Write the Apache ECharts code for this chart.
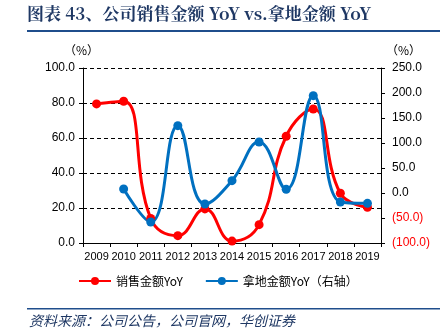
<!DOCTYPE html>
<html><head><meta charset="utf-8">
<script src="https://cdn.jsdelivr.net/npm/echarts@6/dist/echarts.min.js"></script>
<style>html,body{margin:0;padding:0;background:#fff}#c{width:445px;height:336px}</style>
</head><body><div id="c"></div>
<script>
const years = ['2009','2010','2011','2012','2013','2014','2015','2016','2017','2018','2019'];
const salesYoY = [79.5, 81.0, 14.0, 4.2, 19.5, 1.1, 10.5, 61.0, 76.6, 28.4, 20.4];
const landYoY = [null, 8.0, -58.0, 134.7, -22.0, 24.7, 102.0, 7.3, 194.7, -18.0, -20.7];
const leftTicks = {min: 0, max: 100, interval: 20};
const rightTicks = {min: -100, max: 250, interval: 50};

const chart = echarts.init(document.getElementById('c'));
const txtFont = 'Liberation Sans, Arial, sans-serif';
chart.setOption({
  animation: false,
  grid: {left: 83, right: 64, top: 68, bottom: 93},
  xAxis: {
    type: 'category', data: years, boundaryGap: true,
    axisLine: {lineStyle: {color: '#000', width: 1}},
    axisTick: {show: true, inside: false, length: 4, lineStyle: {color: '#000'}},
    axisLabel: {color: '#000', fontSize: 11, fontFamily: txtFont, margin: 8, interval: 0}
  },
  yAxis: [
    {type: 'value', min: leftTicks.min, max: leftTicks.max, interval: leftTicks.interval,
     axisLine: {show: true, lineStyle: {color: '#000'}},
     axisTick: {show: true, length: 4, lineStyle: {color: '#000'}},
     axisLabel: {color: '#000', fontSize: 12, fontFamily: txtFont, margin: 8,
       formatter: v => v.toFixed(1)},
     splitLine: {show: true, lineStyle: {color: '#000', type: [4, 3], width: 1}}
    },
    {type: 'value', min: rightTicks.min, max: rightTicks.max, interval: rightTicks.interval,
     axisLine: {show: true, lineStyle: {color: '#000'}},
     axisTick: {show: true, length: 4, lineStyle: {color: '#000'}},
     axisLabel: {fontSize: 12, fontFamily: txtFont, margin: 11,
       formatter: v => v < 0 ? '{n|(' + Math.abs(v).toFixed(1) + ')}' : '{p|' + v.toFixed(1) + '}',
       rich: {n: {color: '#FF0000', fontSize: 12, fontFamily: txtFont}, p: {color: '#000', fontSize: 12, fontFamily: txtFont}}},
     splitLine: {show: false}
    }
  ],
  legend: {
    bottom: 44, left: 73, itemGap: 22, itemWidth: 32, itemHeight: 10,
    textStyle: {color: '#000', fontSize: 12, fontFamily: 'Noto Sans CJK SC, sans-serif'},
    data: ['销售金额YoY', '拿地金额YoY（右轴）']
  },
  series: [
    {name: '销售金额YoY', type: 'line', data: salesYoY, yAxisIndex: 0, smooth: 0.45,
     symbol: 'circle', symbolSize: 9, color: '#FF0000',
     lineStyle: {width: 3, color: '#FF0000'}, itemStyle: {color: '#FF0000'}},
    {name: '拿地金额YoY（右轴）', type: 'line', data: landYoY, yAxisIndex: 1, smooth: 0.45,
     symbol: 'circle', symbolSize: 9, color: '#0070C0',
     lineStyle: {width: 3, color: '#0070C0'}, itemStyle: {color: '#0070C0'}}
  ],
  graphic: [
    {type: 'text', left: 27, top: 5, style: {text: '图表 43、公司销售金额 YoY vs.拿地金额 YoY',
      fill: '#1F3864', font: 'bold 17px "Noto Serif CJK SC", "Noto Sans CJK SC", serif'}},
    {type: 'rect', shape: {x: 27, y: 30, width: 413, height: 2}, style: {fill: '#1F4E8C'}},
    {type: 'text', left: 64, top: 44, style: {text: '（%）', fill: '#000', font: '12px "Noto Sans CJK SC", sans-serif'}},
    {type: 'text', left: 386, top: 44, style: {text: '（%）', fill: '#000', font: '12px "Noto Sans CJK SC", sans-serif'}},
    {type: 'rect', shape: {x: 27, y: 308, width: 413, height: 1.5}, style: {fill: '#1F4E8C'}},
    {type: 'text', left: 29, top: 314, style: {text: '资料来源：公司公告，公司官网，华创证券',
      fill: '#1F3864', font: 'italic 14px "Noto Sans CJK SC", sans-serif'}}
  ]
});
</script></body></html>
